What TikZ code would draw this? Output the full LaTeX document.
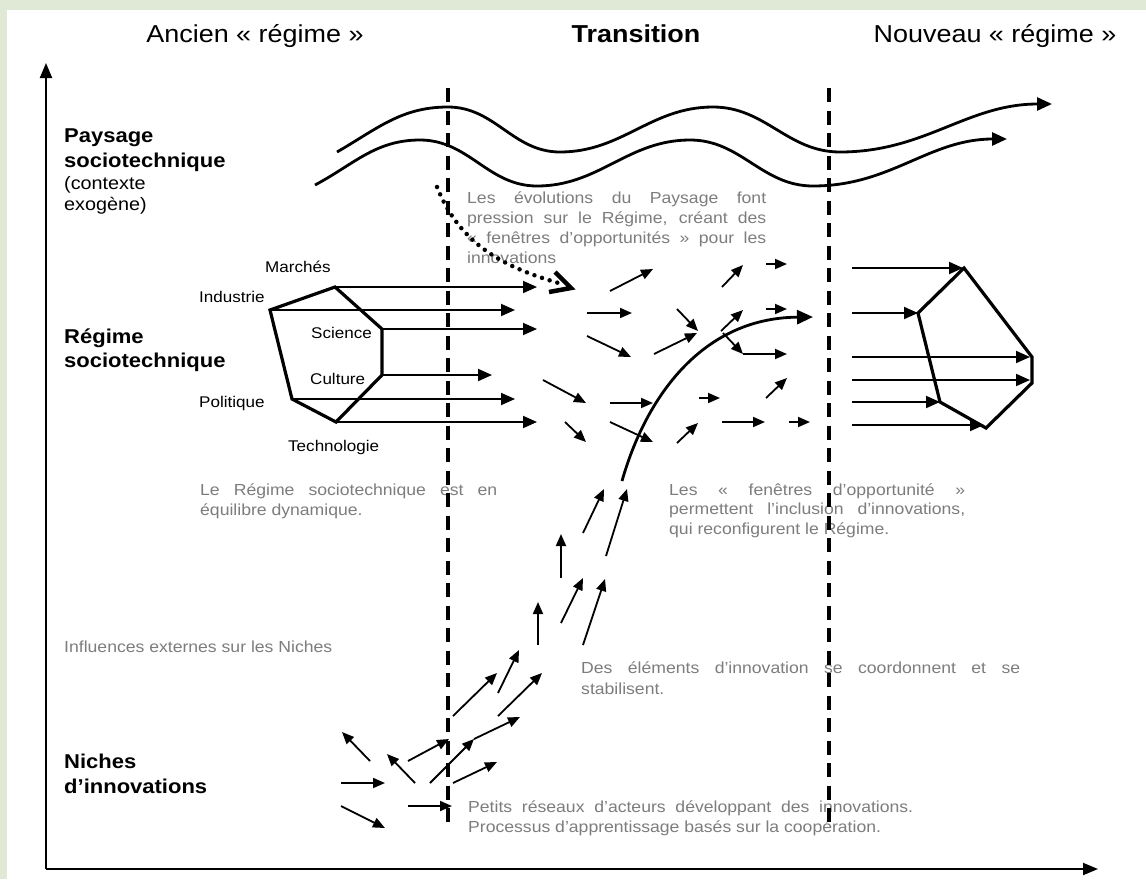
\documentclass[tikz,border=0pt]{standalone}
\usepackage{fontspec}
\setmainfont{Liberation Sans}[FakeStretch=1.1]
\usetikzlibrary{arrows.meta}

\definecolor{framegreen}{RGB}{223,233,213}
\definecolor{notegray}{RGB}{125,125,125}

\newcommand{\fHead}{\fontsize{24.5}{29}\selectfont}
\newcommand{\fSide}{\bfseries\fontsize{20}{25}\selectfont}
\newcommand{\fParen}{\fontsize{18}{21}\selectfont}
\newcommand{\fNote}{\fontsize{16}{20}\selectfont}
\newcommand{\fLab}{\fontsize{15.5}{19}\selectfont}

\begin{document}
\begin{tikzpicture}[x=1pt,y=-1pt,
  flow/.style={line width=1.8pt,-{Triangle[length=12pt,width=10pt]}},
  feed/.style={line width=1.9pt,-{Triangle[length=14pt,width=12pt]}},
  hexa/.style={line width=3.2pt,line join=miter},
  wave/.style={line width=2.8pt,-{Triangle[length=15pt,width=13pt]}},
  trend/.style={line width=2.8pt,-{Triangle[length=16pt,width=14pt]}},
  axis/.style={line width=2pt,-{Triangle[length=15pt,width=12pt]}},
  phase/.style={line width=4pt,dash pattern=on 14pt off 8.5pt},
  press/.style={line width=4.5pt,line cap=round,dash pattern=on 0pt off 8pt},
  presshead/.style={line width=4.5pt,line join=miter,line cap=butt},
  note/.style={anchor=base west,inner sep=0pt,text=notegray,font=\fNote},
  lab/.style={anchor=base west,inner sep=0pt,font=\fLab},
  side/.style={anchor=base west,inner sep=0pt,font=\fSide},
  paren/.style={anchor=base west,inner sep=0pt,font=\fParen},
  head/.style={anchor=base,inner sep=0pt,font=\fHead}]

% background and frame
\fill[framegreen] (0,0) rectangle (1146,879);
\fill[white] (7,10) rectangle (1146,879);
\useasboundingbox (0,0) rectangle (1146,879);

% axes
\coordinate (O) at (46,869);
\coordinate (Ytop) at (46,63);
\coordinate (Xend) at (1098,869);
\draw[axis] (O) -- (Ytop);
\draw[axis] (O) -- (Xend);

% column headings
\node[head] (hOld) at (255,42) {Ancien « régime »};
\node[head] (hTr) at (636,42) {\bfseries Transition};
\node[head] (hNew) at (995,42) {Nouveau « régime »};

% level labels
\node[side] (pay1) at (64,142) {Paysage};
\node[side] (pay2) at (64,167) {sociotechnique};
\node[paren] (pay3) at (64,189) {(contexte};
\node[paren] (pay4) at (64,210) {exogène)};
\node[side] (reg1) at (64,343) {Régime};
\node[side] (reg2) at (64,367) {sociotechnique};
\node[side] (nic1) at (64,768) {Niches};
\node[side] (nic2) at (64,793) {d’innovations};

% landscape waves
\coordinate (wa0) at (337,152);
\coordinate (wa1) at (448,107);
\coordinate (wa2) at (560,152);
\coordinate (wa3) at (713,107);
\coordinate (wa4) at (840,152);
\coordinate (wa5) at (1052,104);
\draw[wave] (wa0) to[out=30,in=180] (wa1) to[out=0,in=180] (wa2)
  to[out=0,in=180] (wa3) to[out=0,in=180] (wa4) to[out=0,in=180] (wa5);
\coordinate (wb0) at (315,185);
\coordinate (wb1) at (420,140);
\coordinate (wb2) at (537,186);
\coordinate (wb3) at (690,140);
\coordinate (wb4) at (813,186);
\coordinate (wb5) at (1007,139);
\draw[wave] (wb0) to[out=28,in=180] (wb1) to[out=0,in=180] (wb2)
  to[out=0,in=180] (wb3) to[out=0,in=180] (wb4) to[out=0,in=180] (wb5);

% explanatory notes
\node[note] (n1a) at (467,203) {\makebox[299pt][s]{Les évolutions du Paysage font}};
\node[note] (n1b) at (467,223) {\makebox[299pt][s]{pression sur le Régime, créant des}};
\node[note] (n1c) at (467,243) {\makebox[299pt][s]{« fenêtres d’opportunités » pour les}};
\node[note] (n1d) at (467,263) {innovations};
\node[note] (n2a) at (200,495) {\makebox[297pt][s]{Le Régime sociotechnique est en}};
\node[note] (n2b) at (200,515) {équilibre dynamique.};
\node[note] (n3a) at (669,495) {\makebox[296pt][s]{Les « fenêtres d’opportunité »}};
\node[note] (n3b) at (669,514.5) {\makebox[296pt][s]{permettent l’inclusion d’innovations,}};
\node[note] (n3c) at (669,534) {qui reconfigurent le Régime.};
\node[note] (n4) at (64,652) {Influences externes sur les Niches};
\node[note] (n5a) at (581,673) {\makebox[439pt][s]{Des éléments d’innovation se coordonnent et se}};
\node[note] (n5b) at (581,694) {stabilisent.};
\node[note] (n6a) at (468,812) {\makebox[445pt][s]{Petits réseaux d’acteurs développant des innovations.}};
\node[note] (n6b) at (468,832) {Processus d’apprentissage basés sur la coopération.};

% old regime
\coordinate (L1) at (335,287);
\coordinate (L2) at (382,329);
\coordinate (L3) at (382,375);
\coordinate (L4) at (336,422);
\coordinate (L5) at (292,399);
\coordinate (L6) at (270,310);
\foreach \v/\ex/\ey in {L1/537/287, L6/515/310, L2/537/329, L3/492/375, L5/515/399, L4/537/422}{
  \coordinate (end\v) at (\ex,\ey);
  \draw[feed] (\v) -- (end\v);
}
\draw[hexa] (L1) -- (L2) -- (L3) -- (L4) -- (L5) -- (L6) -- cycle;
\node[lab] (lMar) at (265,272) {Marchés};
\node[lab] (lInd) at (199,302) {Industrie};
\node[lab] (lSci) at (311,338) {Science};
\node[lab] (lCul) at (310,384) {Culture};
\node[lab] (lPol) at (199,407) {Politique};
\node[lab] (lTec) at (288,451) {Technologie};

% new regime
\coordinate (R1) at (964,268);
\coordinate (R2) at (1032,357);
\coordinate (R3) at (1032,383);
\coordinate (R4) at (986,428);
\coordinate (R5) at (940,402);
\coordinate (R6) at (918,313);
\foreach \i/\sy/\ex/\ey in {1/268/963/268, 2/313/918/313, 3/357/1030/357, 4/380/1030/380, 5/402/940/402, 6/425/984/425}{
  \coordinate (rs\i) at (852,\sy);
  \coordinate (re\i) at (\ex,\ey);
  \draw[feed] (rs\i) -- (re\i);
}
\draw[hexa] (R1) -- (R2) -- (R3) -- (R4) -- (R5) -- (R6) -- cycle;

% elements moving during the transition
\foreach \n/\ax/\ay/\bx/\by in {
  m1/610/291/653/269, m2/722/287/743/265, m3/766/264/787/264,
  m4/587/313/632/313, m5/677/309/698/331, m6/654/354/697/333,
  m7/721/331/743/310, m8/766/309/787/309, m9/723/333/743/354,
  m10/743/354/787/354, m11/587/336/631/357, m12/543/380/586/403,
  m13/610/403/653/403, m14/699/398/720/398, m15/766/398/787/378,
  m16/565/422/586/442, m17/610/422/653/442, m18/677/443/698/423,
  m19/722/422/765/422, m20/789/422/810/422,
  k1/583/533/604/489, k2/606/556/627/489, k3/561/578/561/534,
  k4/561/623/583/578, k5/583/645/605/579, k6/538/645/538/602,
  k7/498/693/519/650, k8/453/716/497/673, k9/498/716/542/673,
  k10/408/761/449/739, k11/430/783/474/739, k12/474/739/520/717,
  k13/453/783/497/762, k14/370/761/342/732, k15/415/783/387/754,
  k16/341/783/385/783, k17/408/806/452/806, k18/341/806/385/828}{
  \coordinate (s\n) at (\ax,\ay);
  \coordinate (e\n) at (\bx,\by);
  \draw[flow] (s\n) -- (e\n);
}

% innovation breaking through into the regime
\coordinate (tr0) at (622,481);
\coordinate (tr1) at (813,317);
\draw[trend] (tr0) .. controls (645,400) and (700,318) .. (tr1);

% landscape pressure: dotted path ending in an open chevron
\coordinate (pr0) at (437,187);
\coordinate (pr1) at (562,284);
\coordinate (prTip) at (571,288);
\coordinate (prArmA) at (555,272);
\coordinate (prArmB) at (549,292);
\draw[press] (pr0) .. controls (460,245) and (505,268) .. (pr1);
\draw[presshead] (prArmA) -- (prTip) -- (prArmB);

% phase boundaries
\coordinate (dA0) at (448,88);
\coordinate (dA1) at (448,830);
\coordinate (dB0) at (829,88);
\coordinate (dB1) at (829,830);
\draw[phase] (dA0) -- (dA1);
\draw[phase] (dB0) -- (dB1);
\end{tikzpicture}
\end{document}
